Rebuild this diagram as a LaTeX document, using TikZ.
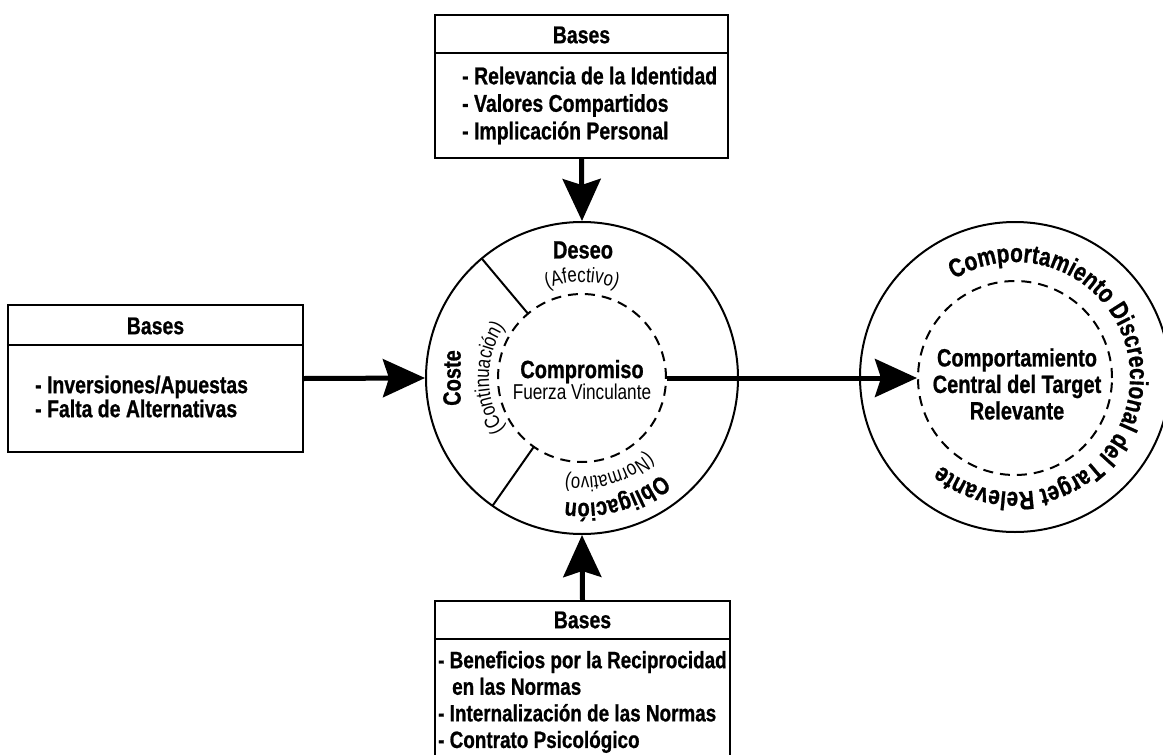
\documentclass[tikz,border=0pt]{standalone}
\usepackage{fontspec}
\setmainfont{Liberation Sans}[FakeStretch=0.8, BoldFeatures={FakeBold=0.8}]
\usetikzlibrary{arrows.meta,decorations.text}
\begin{document}
\begin{tikzpicture}[x=1pt,y=1pt,
  boxline/.style={draw, line width=2.2pt, inner sep=0},
  sepline/.style={line width=2.2pt},
  hdr/.style={font=\bfseries\fontsize{24.3}{27}\selectfont, inner sep=0},
  body/.style={align=left, inner sep=0, anchor=west},
  ring/.style={circle, draw, line width=2pt, inner sep=0},
  core/.style={circle, draw, dash pattern=on 10pt off 7pt, line width=2pt, inner sep=0},
  arr/.style={line width=5pt, -{Stealth[length=42pt,width=38pt,inset=6pt]}},
  divider/.style={line width=2pt},
  bigbold/.style={font=\bfseries\fontsize{25}{28}\selectfont, inner sep=0},
]
\useasboundingbox (0,0) rectangle (1163,-755);

% ---------- top box ----------
\node[boxline, minimum width=293, minimum height=143] (tbox) at (581.5,-86.5) {};
\draw[sepline] (tbox.west |- 0,-53) -- (tbox.east |- 0,-53);
\node[hdr] (thdr) at (581.5,-35) {Bases};
\node[body, font=\bfseries\fontsize{24.3}{27.5}\selectfont] (tbody) at (462,-105.5)
  {- Relevancia de la Identidad\\- Valores Compartidos\\- Implicación Personal};

% ---------- left box ----------
\node[boxline, minimum width=295, minimum height=147] (lbox) at (155.5,-378.5) {};
\draw[sepline] (lbox.west |- 0,-345) -- (lbox.east |- 0,-345);
\node[hdr] (lhdr) at (155.5,-326) {Bases};
\node[body, font=\bfseries\fontsize{24.3}{24}\selectfont] (lbody) at (35,-396.5)
  {- Inversiones/Apuestas\\- Falta de Alternativas};

% ---------- bottom box ----------
\node[boxline, minimum width=295, minimum height=170, anchor=north] (bbox) at (582.5,-600) {};
\draw[sepline] (bbox.west |- 0,-639) -- (bbox.east |- 0,-639);
\node[hdr] (bhdr) at (582.5,-620) {Bases};
\node[body, font=\bfseries\fontsize{23.6}{26.6}\selectfont] (bbody) at (438,-702)
  {- Beneficios por la Reciprocidad\\\hspace*{14pt}en las Normas\\- Internalización de las Normas\\- Contrato Psicológico};

% ---------- left circle ----------
\node[ring, minimum size=312] (c1) at (582,-378) {};
\node[core, minimum size=168] (d1) at (582,-378) {};
\node[align=center, inner sep=0] (t1) at (582,-380)
  {{\bfseries\fontsize{25}{28}\selectfont Compromiso}\\[0pt]{\fontsize{21.5}{24}\selectfont Fuerza Vinculante}};
\draw[divider] ([shift={(130:84)}]c1.center) -- ([shift={(130:156)}]c1.center);
\draw[divider] ([shift={(235:84)}]c1.center) -- ([shift={(235:156)}]c1.center);

\node[bigbold] (deseo) at (583,-250) {Deseo};
\path[decorate, decoration={text along path, text align=center,
   text={|\fontsize{21}{21}\selectfont|(Afectivo)}}]
   ([shift={(130:96)}]c1.center) arc[start angle=130, end angle=50, radius=96];

\node[bigbold, rotate=90] (coste) at (452,-378) {Coste};
\path[decorate, decoration={text along path, text align=center,
   text={|\fontsize{21}{21}\selectfont|(Continuación)}}]
   ([shift={(225:93)}]c1.center) arc[start angle=225, end angle=135, radius=93];

\path[decorate, decoration={text along path, text align=center,
   text={|\fontsize{21}{21}\selectfont|(Normativo)}}]
   ([shift={(-30:99)}]c1.center) arc[start angle=-30, end angle=-118, radius=99];
\path[decorate, decoration={text along path, text align=center,
   text={|\bfseries\fontsize{25}{25}\selectfont|Obligación}}]
   ([shift={(-32:125)}]c1.center) arc[start angle=-32, end angle=-116, radius=125];

% ---------- right circle ----------
\node[ring, minimum size=310] (c2) at (1015,-377) {};
\node[core, minimum size=194] (d2) at (1015,-378) {};
\node[align=center, font=\bfseries\fontsize{25}{26.5}\selectfont, inner sep=0] (t2) at (1017,-384)
  {Comportamiento\\Central del Target\\Relevante};
\path[decorate, decoration={text along path, text align=center,
   text={|\bfseries\fontsize{26}{26}\selectfont|Comportamiento Discrecional del Target Relevante}}]
   ([shift={(126:115)}]c2.center) arc[start angle=126, end angle=-134, radius=115];

% ---------- connectors ----------
\draw[arr] (tbox.south) -- (c1.north);
\draw[arr] (bbox.north) -- (c1.south);
\draw[arr] (lbox.east) -- (c1.west);
\draw[arr] (d1.east) -- (d2.west);
\end{tikzpicture}
\end{document}
